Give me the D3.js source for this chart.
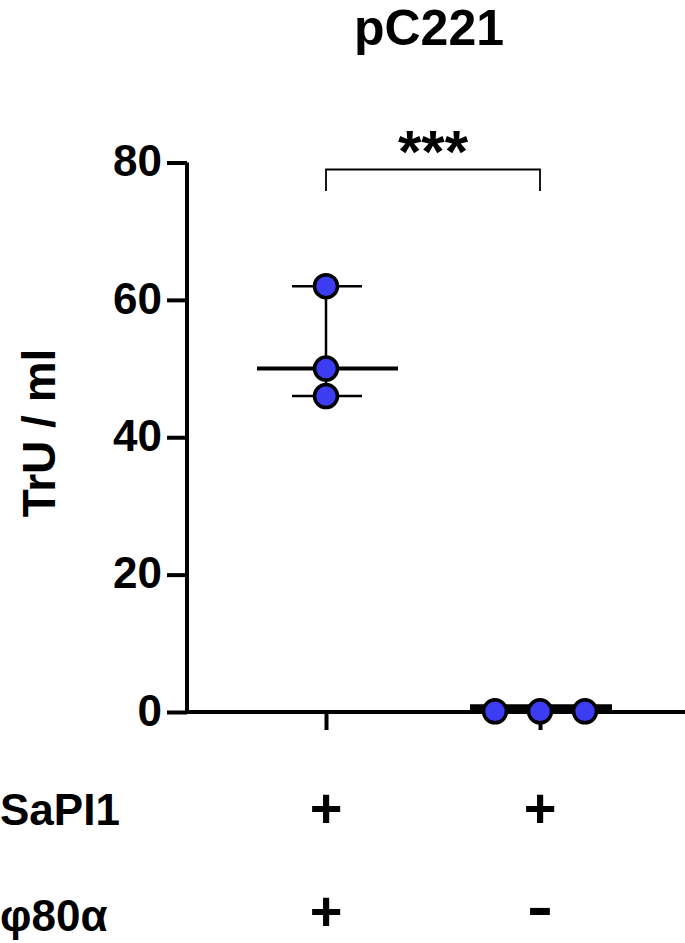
<!DOCTYPE html>
<html><head><meta charset="utf-8">
<script src="https://cdn.jsdelivr.net/npm/d3@7"></script>
<style>body{margin:0;background:#fff}svg{display:block}text{font-family:"Liberation Sans",Arial,sans-serif;font-weight:bold;fill:#000}</style>
</head><body>
<script>
const groups = ["g1", "g2"];
const values = [[62, 50, 46], [0.1, 0.1, 0.1]];
const medians = [50, 0.7];
const yTicks = [0, 20, 40, 60, 80];
const rowLabels = ["SaPI1", "φ80α"];
const rowSigns = [["+", "+"], ["+", "-"]];
const title = "pC221";
const yLabel = "TrU / ml";
const sigLabel = "***";

const W = 685, H = 943;
const svg = d3.select("body").append("svg").attr("width", W).attr("height", H);

const y = d3.scaleLinear().domain([0, 80]).range([712, 162.5]);
const x = d3.scalePoint().domain(groups).range([326, 540]);
const axisX = 187;

// y axis
const yAxis = d3.axisLeft(y).tickValues(yTicks).tickSize(20).tickPadding(5).tickSizeOuter(0);
const gy = svg.append("g").attr("transform", `translate(${axisX},0)`).call(yAxis);
gy.select(".domain").attr("stroke", "#000").attr("stroke-width", 4).attr("d", `M0,${y(80)}V${y(0)}`);
gy.selectAll(".tick line").attr("stroke", "#000").attr("stroke-width", 4);
gy.selectAll(".tick text").style("font-size", "44px").style("font-family", '"Liberation Sans",Arial,sans-serif').style("font-weight", "bold").attr("dy", "0.3em");

// x axis
const xAxis = d3.axisBottom(x).tickSize(18).tickFormat("").tickSizeOuter(0);
const gx = svg.append("g").attr("transform", `translate(0,${y(0)})`).call(xAxis);
gx.select(".domain").attr("stroke", "#000").attr("stroke-width", 4).attr("d", `M${axisX - 2},0H${W}`);
gx.selectAll(".tick line").attr("stroke", "#000").attr("stroke-width", 4);

// group 1 range + median
const g1 = values[0];
const ext = d3.extent(g1);
const xg1 = x("g1");
svg.append("line").attr("x1", xg1).attr("x2", xg1).attr("y1", y(ext[1])).attr("y2", y(ext[0])).attr("stroke", "#000").attr("stroke-width", 2.5);
[ext[0], ext[1]].forEach(v => {
  svg.append("line").attr("x1", xg1 - 34).attr("x2", xg1 + 36).attr("y1", y(v)).attr("y2", y(v)).attr("stroke", "#000").attr("stroke-width", 2.5);
});
svg.append("line").attr("x1", xg1 - 69).attr("x2", xg1 + 72).attr("y1", y(medians[0])).attr("y2", y(medians[0])).attr("stroke", "#000").attr("stroke-width", 4);

// group 2 median
const xg2 = x("g2");
svg.append("line").attr("x1", xg2 - 70).attr("x2", xg2 + 72).attr("y1", y(medians[1])).attr("y2", y(medians[1])).attr("stroke", "#000").attr("stroke-width", 6);

// points
const pts = [];
values[0].forEach(v => pts.push({x: xg1, v}));
const offs = [-45, 0, 45];
values[1].forEach((v, i) => pts.push({x: xg2 + offs[i], v}));
svg.selectAll("circle.pt").data(pts).join("circle").attr("class", "pt")
  .attr("cx", d => d.x).attr("cy", d => y(d.v)).attr("r", 11.5)
  .attr("fill", "#3c3cf2").attr("stroke", "#000").attr("stroke-width", 3.5);

// significance bracket
const by = 169.5, bb = 191;
svg.append("path").attr("d", `M${xg1},${bb}V${by}H${xg2}V${bb}`).attr("fill", "none").attr("stroke", "#000").attr("stroke-width", 1.8);
svg.append("text").attr("x", (xg1 + xg2) / 2).attr("y", 172).attr("text-anchor", "middle").style("font-size", "60px").text(sigLabel);

// title
svg.append("text").attr("x", 429).attr("y", 45).attr("text-anchor", "middle").style("font-size", "50px").text(title);

// y label
svg.append("text").attr("transform", `translate(55,${433}) rotate(-90)`).attr("text-anchor", "middle").style("font-size", "46px").text(yLabel);

// row labels
const rowY = [825, 931];
const signY = [827, 930];
rowLabels.forEach((lab, i) => {
  svg.append("text").attr("x", 0).attr("y", rowY[i]).style("font-size", "44px").text(lab);
  rowSigns[i].forEach((s, j) => {
    const t = svg.append("text").attr("x", x(groups[j])).attr("y", signY[i]).attr("text-anchor", "middle").style("font-size", "56px").text(s);
    if (s === "-") t.attr("y", rowY[i] - 4).attr("x", x(groups[j]) - 13).attr("text-anchor", "start").attr("textLength", 26).attr("lengthAdjust", "spacingAndGlyphs").style("font-size", "60px");
  });
});
</script>
</body></html>
